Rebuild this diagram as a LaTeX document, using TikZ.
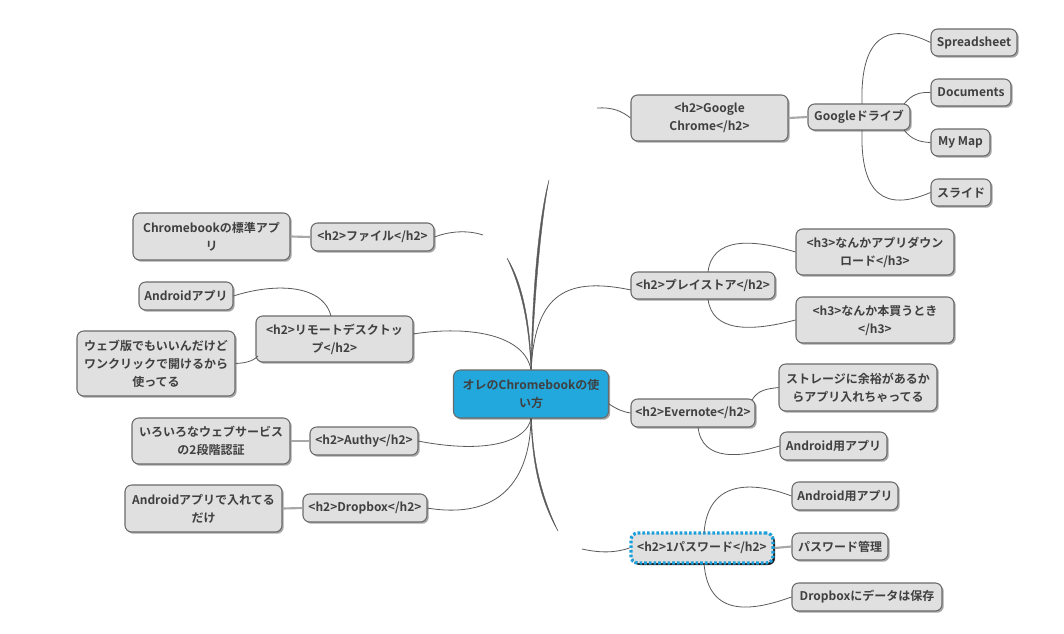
\documentclass[tikz,border=0pt]{standalone}
\usepackage{fontspec}
\setmainfont{Noto Sans CJK JP}[BoldFont={Noto Sans CJK JP Bold}]
\usetikzlibrary{shadows}
\definecolor{nodefill}{HTML}{E0E0E0}
\definecolor{nodeline}{HTML}{6A6A6A}
\definecolor{txt}{HTML}{404040}
\definecolor{centerfill}{HTML}{22A8DD}
\definecolor{dotblue}{HTML}{1A9FDA}
\definecolor{conn}{HTML}{5A5A5A}
\definecolor{straight}{HTML}{A8A8A8}
\tikzset{
  sz/.style 2 args={minimum width=#1*0.75pt, minimum height=#2*0.75pt},
  box/.style={draw=nodeline, line width=0.8pt, fill=nodefill, rounded corners=5pt,
    text=txt, align=center, inner sep=1pt, font=\fontsize{9}{13.5}\selectfont\bfseries,
    drop shadow={shadow xshift=1.3pt, shadow yshift=-1.3pt, fill=black, opacity=0.35}},
  centerbox/.style={box, fill=centerfill},
  passbox/.style={box, draw=dotblue, line width=2.4pt, dash pattern=on 2pt off 1.5pt,
    drop shadow={shadow xshift=1.5pt, shadow yshift=-1.5pt, fill=black, opacity=0.85}},
  link/.style={draw=conn, line width=0.6pt},
  bar/.style={draw=straight, line width=1.6pt},
  taper/.style={fill=conn, draw=conn, line width=0.3pt}
}
\begin{document}
\begin{tikzpicture}[x=0.75pt, y=-0.75pt]
\useasboundingbox (0,0) rectangle (1064,633);

% main branches (from the central node)
\coordinate (ctop) at (531,370);
\coordinate (cbot) at (531,418);
\coordinate (chromeend) at (597,108);
\coordinate (fileend) at (483,235);
\coordinate (passend) at (582,549);
% broken pieces, thicker toward their far end
\fill[taper] (531,370) .. controls (532,300) and (538,220) .. (549,180)
  .. controls (541,220) and (534,300) .. (531.5,370) -- cycle;
\fill[taper] (531,370) .. controls (529,320) and (520,285) .. (507,258)
  .. controls (522,282) and (530,320) .. (531.5,370) -- cycle;
\fill[taper] (531,418) .. controls (532,470) and (543,505) .. (558,531)
  .. controls (546,506) and (533,470) .. (531.5,418) -- cycle;
% complete thin branches
\draw[link] (ctop) .. controls (535,300) and (560,275) .. (631,290);
\draw[link] (ctop) .. controls (525,335) and (470,325) .. (413,334);
\draw[link] (cbot) .. controls (528,440) and (490,455) .. (418,441);
\draw[link] (cbot) .. controls (530,480) and (500,520) .. (427,508);

% nodes
\node[centerbox, sz={155}{48}] (center) at (531,394) {オレのChromebookの使\\い方};

\node[box, sz={157}{46}] (chrome) at (709.5,118) {<h2>Google\\Chrome</h2>};
\node[box, sz={102}{26}] (drive) at (859,117) {Googleドライブ};
\node[box, sz={86}{27}] (sheet) at (974,42.5) {Spreadsheet};
\node[box, sz={80}{27}] (docs) at (971,92.5) {Documents};
\node[box, sz={59}{27}] (mymap) at (960.5,142.5) {My Map};
\node[box, sz={60}{27}] (slide) at (961,192.5) {スライド};

\node[box, sz={123}{28}] (file) at (372.5,237) {<h2>ファイル</h2>};
\node[box, sz={157}{47}] (stdapp) at (211.5,236.5) {Chromebookの標準アプ\\リ};

\node[box, sz={157}{46}] (remote) at (334.5,339) {<h2>リモートデスクトッ\\プ</h2>};
\node[box, sz={94}{28}] (andapp) at (186,296) {Androidアプリ};
\node[box, sz={158}{65}] (web) at (156,363.5) {ウェブ版でもいいんだけど\\ワンクリックで開けるから\\使ってる};

\node[box, sz={108}{28}] (authy) at (364,441) {<h2>Authy</h2>};
\node[box, sz={158}{46}] (twofa) at (211,441) {いろいろなウェブサービス\\の2段階認証};

\node[box, sz={124}{28}] (dropbox) at (365,508) {<h2>Dropbox</h2>};
\node[box, sz={157}{47}] (onlyand) at (203.5,508.5) {Androidアプリで入れてる\\だけ};

\node[box, sz={144}{27}] (play) at (703,285.5) {<h2>プレイストア</h2>};
\node[box, sz={158}{46}] (dl) at (875,252) {<h3>なんかアプリダウン\\ロード</h3>};
\node[box, sz={158}{46}] (book) at (875,320) {<h3>なんか本買うとき\\</h3>};

\node[box, sz={124}{28}] (evernote) at (693,413) {<h2>Evernote</h2>};
\node[box, sz={158}{47}] (storage) at (858,387.5) {ストレージに余裕があるか\\らアプリ入れちゃってる};
\node[box, sz={107}{28}] (evand) at (833.5,446) {Android用アプリ};

\node[passbox, sz={142}{30}] (pass) at (702,548) {<h2>1パスワード</h2>};
\node[box, sz={106}{28}] (passand) at (845,496) {Android用アプリ};
\node[box, sz={96}{27}] (passmgr) at (840,546.5) {パスワード管理};
\node[box, sz={150}{28}] (passdb) at (867,597) {Dropboxにデータは保存};

% broken end pieces of main branches
\draw[link] (chromeend) .. controls (612,107) and (622,111) .. (chrome.west);
\draw[link] (file.east) .. controls (450,231) and (468,230) .. (fileend);
\draw[link] (passend) .. controls (600,553) and (615,553) .. (pass.west);
\draw[link] (center.east |- 0,404) .. controls (618,410) and (624,412) .. (evernote.west);

% straight bars
\draw[bar] (chrome.east) -- (drive.west);
\draw[bar] (stdapp.east) -- (file.west);
\draw[bar] (twofa.east) -- (authy.west);
\draw[bar] (onlyand.east) -- (dropbox.west);
\draw[bar] (pass.east) -- (passmgr.west);

% child curves
\draw[link] (862,104) .. controls (860,40) and (885,20) .. (sheet.west);
\draw[link] (904,104) .. controls (912,94) and (920,92) .. (docs.west);
\draw[link] (904,130) .. controls (912,140) and (920,142) .. (mymap.west);
\draw[link] (862,130) .. controls (860,195) and (885,212) .. (slide.west);

\draw[link] (331,316) .. controls (322,282) and (270,284) .. (andapp.east);
\draw[link] (258,356) .. controls (252,362) and (244,363) .. (web.east);

\draw[link] (708,272) .. controls (712,238) and (750,238) .. (dl.west);
\draw[link] (708,299) .. controls (712,332) and (750,332) .. (book.west);

\draw[link] (752,400) .. controls (758,390) and (766,389) .. (storage.west);
\draw[link] (698,427) .. controls (702,462) and (740,458) .. (evand.west);

\draw[link] (704,533) .. controls (708,478) and (755,482) .. (passand.west);
\draw[link] (704,563) .. controls (708,620) and (755,610) .. (passdb.west);
\end{tikzpicture}
\end{document}
